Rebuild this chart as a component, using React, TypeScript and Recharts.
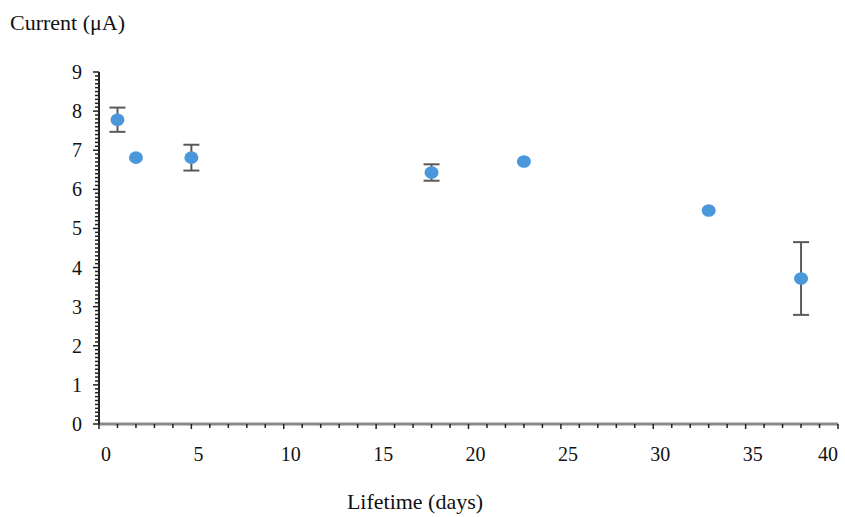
import { ScatterChart, Scatter, XAxis, YAxis, ErrorBar } from 'recharts'

const DAYS = [1, 2, 5, 18, 23, 33, 38]
const CURRENT = [7.78, 6.81, 6.81, 6.43, 6.71, 5.46, 3.72]
const ERRORS = [0.31, 0, 0.33, 0.21, 0, 0, 0.93]

const X_TICKS = Array.from({ length: 41 }, (_, i) => i)
const Y_TICKS = Array.from({ length: 91 }, (_, i) => i / 10)

const data = DAYS.map((d, i) => ({ day: d, current: CURRENT[i], err: ERRORS[i] }))

const FONT = '"Liberation Serif", "Times New Roman", serif'
const DOT = '#4A97DB'

function YTick({ x, y, payload }: any) {
  const major = Number.isInteger(payload.value)
  return (
    <g>
      <line x1={x - (major ? 6 : 4)} x2={x} y1={y} y2={y} stroke="#222" strokeWidth={1.5} />
      {major && (
        <text x={x - 17} y={y} dy={7} textAnchor="end" fontFamily={FONT} fontSize={20} fill="#111">
          {payload.value}
        </text>
      )}
    </g>
  )
}

function XTick({ x, y, payload }: any) {
  const major = payload.value % 5 === 0
  // last label is pulled back inside the frame, as in the original
  const last = payload.value === 40
  return (
    <g>
      <line x1={x} x2={x} y1={y} y2={y + (major ? 5 : 4)} stroke="#222" strokeWidth={1.5} />
      {major && (
        <text x={x} y={y} dx={last ? 0 : 7} dy={37} textAnchor={last ? 'end' : 'middle'}
          fontFamily={FONT} fontSize={20} fill="#111">
          {payload.value}
        </text>
      )}
    </g>
  )
}

export default function App() {
  return (
    <div style={{ position: 'absolute', left: 0, top: 0, width: 845, height: 517, background: '#fff', fontFamily: FONT }}>
      <div style={{ position: 'absolute', left: 10, top: 10, fontSize: 22, color: '#111', whiteSpace: 'nowrap' }}>Current (μA)</div>
      <div style={{ position: 'absolute', left: 0, width: 830, top: 489, textAlign: 'center', fontSize: 22, color: '#111' }}>
        Lifetime (days)
      </div>
      <ScatterChart width={845} height={517} margin={{ top: 72, right: 7, left: 0, bottom: 0 }}>
        <XAxis
          type="number" dataKey="day" domain={[0, 40]} ticks={X_TICKS} interval={0}
          height={93} tickSize={0} tickMargin={0} tickLine={false} tick={<XTick />}
          axisLine={{ stroke: '#8a8a8a', strokeWidth: 3 }}
        />
        <YAxis
          type="number" dataKey="current" domain={[0, 9]} ticks={Y_TICKS} interval={0}
          width={99} tickSize={0} tickMargin={0} tickLine={false} tick={<YTick />}
          axisLine={{ stroke: '#222', strokeWidth: 2 }}
        />
        <Scatter data={data} fill={DOT} isAnimationActive={false}
          shape={(p: any) => <ellipse cx={p.cx} cy={p.cy} rx={7} ry={6.3} fill={DOT} />}
        >
          <ErrorBar dataKey="err" direction="y" width={8} stroke="#5a5a5a" strokeWidth={2} />
        </Scatter>
      </ScatterChart>
    </div>
  )
}
